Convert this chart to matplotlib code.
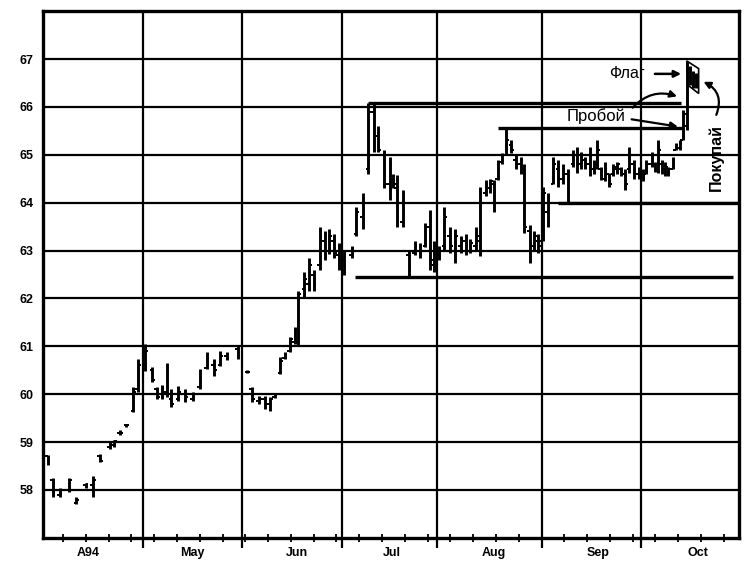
import matplotlib
matplotlib.use("Agg")
import matplotlib.pyplot as plt
from matplotlib.patches import Polygon
from matplotlib.transforms import blended_transform_factory

plt.rcParams['font.family'] = ['Liberation Sans', 'DejaVu Sans']

# trading day index, high, low, open, close
days = [1, 2, 3.5, 5.5, 7, 9, 10.5, 12, 14, 15, 16.2, 17.5, 19, 20, 21.5,
        23, 24, 25, 26, 27, 28.5, 30, 31.5, 33, 34.5, 36, 37.3, 38.7, 41,
        43, 44, 45.5, 46.7, 47.8, 48.8, 50, 50.9, 52, 53, 53.8, 55, 56, 57,
        58.3, 59.3, 60.3, 61.3, 62.3, 63.3,
        65, 66, 67.3, 68.5, 69.7, 70.6, 71.8, 73, 73.8, 74.5, 75.8, 77, 78.3,
        79.3, 80.5, 81.5, 82.3,
        83.3, 84.5, 85.7, 86.8, 88, 89, 90, 91.2, 92, 93.2, 94.2, 95, 95.8,
        96.6, 97.6, 98.6, 99.6, 100.6, 101.4, 102.5, 103.4, 104.3, 105.3,
        106.3, 107.5, 108.5, 109.5, 110.5, 111.7, 112.5, 113.3, 114.1, 115.2,
        116.0, 116.7, 117.5, 118.3, 119.2, 120.1, 121.0, 121.8, 122.6, 123.5,
        124.5, 125.5, 126.3,
        127.0, 128.2, 128.9, 129.6, 130.3, 131.0, 131.7, 132.6, 133.3, 134.1,
        134.8, 135.6, 136.3, 136.9, 137.5]
highs = [58.73, 58.25, 58.05, 58.25, 57.85, 58.15, 58.3, 58.75, 59.0, 59.05, 59.25, 59.38, 60.15, 60.73, 61.05,
         60.56, 60.15, 60.2, 60.65, 60.1, 60.17, 60.1, 60.05, 60.52, 60.88, 60.73, 60.9, 60.88, 61.0,
         60.5, 60.15, 59.96, 59.96, 59.95, 60.0, 60.77, 60.88, 61.2, 61.4, 62.15, 62.55, 62.85, 62.6,
         63.5, 63.4, 63.45, 63.35, 63.15, 63.0,
         63.1, 63.9, 64.2, 66.08, 66.08, 65.6, 65.1, 64.95, 64.6, 64.58, 64.27, 63.0, 63.2,
         63.15, 63.58, 63.85, 63.2,
         63.1, 63.9, 63.5, 63.45, 63.3, 63.35, 63.25, 63.5, 64.33, 64.48, 64.5, 64.48, 64.9,
         65.04, 65.56, 65.3, 65.0, 64.95, 64.8, 63.54, 63.4, 63.35, 64.33,
         64.2, 64.96, 64.9, 64.8, 64.7, 65.1, 65.17, 65.05, 64.96, 65.17,
         64.9, 65.3, 64.75, 64.85, 64.63, 64.8, 64.85, 64.75, 64.7, 65.17,
         64.9, 64.75, 64.7,
         64.9, 65.05, 64.85, 65.3, 64.9, 64.85, 64.75, 64.95, 65.25, 65.3,
         65.94, 66.94, 66.85, 66.75, 66.7]
lows = [58.52, 57.85, 57.85, 57.95, 57.7, 58.05, 57.85, 58.58, 58.85, 58.9, 59.15, 59.32, 59.62, 60.04, 60.48,
        60.25, 59.9, 59.9, 59.95, 59.73, 59.85, 59.83, 59.85, 60.1, 60.52, 60.38, 60.58, 60.72, 60.73,
        60.44, 59.83, 59.79, 59.7, 59.65, 59.92, 60.42, 60.73, 60.88, 61.04, 61.0, 62.0, 62.15, 62.15,
        62.6, 62.8, 62.92, 62.85, 62.6, 62.5,
        62.85, 63.3, 63.45, 64.6, 65.05, 65.05, 64.3, 64.05, 64.3, 63.5, 63.5, 62.45, 62.9,
        62.85, 63.08, 62.6, 62.55,
        62.8, 63.0, 62.95, 62.75, 62.95, 62.9, 62.95, 63.0, 62.88, 64.13, 64.2, 63.8, 64.48,
        64.8, 65.0, 65.04, 64.7, 64.6, 63.37, 62.75, 63.0, 62.95, 63.19,
        63.5, 64.38, 64.33, 64.4, 64.0, 64.75, 64.63, 64.7, 64.7, 64.55,
        64.6, 64.7, 64.48, 64.45, 64.33, 64.55, 64.6, 64.55, 64.27, 64.63,
        64.5, 64.5, 64.45,
        64.6, 64.75, 64.65, 64.63, 64.6, 64.55, 64.55, 64.7, 65.1, 65.1,
        65.3, 65.52, 66.45, 66.4, 66.4]
opens = [58.7, 58.2, 57.9, 58.0, 57.72, 58.1, 58.1, 58.7, 58.9, 58.95, 59.2, 59.35, 59.65, 60.1, 60.6,
         60.5, 60.1, 60.0, 60.05, 59.9, 59.9, 60.0, 59.9, 60.15, 60.55, 60.6, 60.6, 60.8, 60.95,
         60.47, 60.1, 59.85, 59.9, 59.8, 59.95, 60.45, 60.75, 60.9, 61.1, 61.1, 62.2, 62.3, 62.5,
         62.7, 63.2, 63.0, 63.2, 62.9, 62.8,
         62.9, 63.35, 63.7, 64.7, 65.9, 65.4, 65.0, 64.4, 64.5, 64.3, 63.6, 62.9, 62.95,
         63.0, 63.1, 63.5, 62.7,
         63.0, 63.1, 63.3, 63.0, 63.1, 63.2, 63.0, 63.1, 63.2, 64.2, 64.3, 64.4, 64.5,
         64.85, 65.0, 65.2, 64.9, 64.8, 64.7, 63.4, 63.1, 63.2, 63.2,
         63.8, 64.4, 64.7, 64.5, 64.6, 64.8, 65.0, 64.8, 64.9, 64.8,
         64.7, 64.8, 64.7, 64.5, 64.6, 64.6, 64.7, 64.7, 64.6, 64.7,
         64.8, 64.6, 64.6,
         64.6, 64.8, 64.8, 64.7, 64.8, 64.7, 64.6, 64.7, 65.1, 65.15,
         65.3, 65.6, 66.8, 66.5, 66.6]
closes = [58.6, 57.95, 58.0, 58.2, 57.8, 58.12, 58.2, 58.6, 58.95, 59.02, 59.18, 59.36, 60.05, 60.6, 60.9,
          60.3, 59.95, 60.1, 60.55, 59.8, 60.05, 59.95, 60.0, 60.45, 60.75, 60.5, 60.8, 60.85, 60.8,
          60.46, 59.9, 59.9, 59.8, 59.9, 59.98, 60.7, 60.85, 61.15, 61.35, 62.1, 62.4, 62.7, 62.3,
          63.3, 63.0, 63.3, 62.95, 62.8, 62.7,
          63.05, 63.8, 64.0, 65.9, 65.4, 65.1, 64.4, 64.8, 64.4, 63.7, 64.0, 62.6, 63.1,
          62.95, 63.5, 62.8, 63.1,
          62.9, 63.7, 63.1, 63.3, 63.2, 63.0, 63.15, 63.3, 64.2, 64.4, 64.45, 64.0, 64.8,
          65.0, 65.3, 65.1, 64.8, 64.7, 63.5, 63.1, 63.3, 63.1, 64.2,
          64.0, 64.8, 64.5, 64.7, 64.2, 65.0, 64.8, 65.0, 64.8, 64.7,
          64.8, 65.1, 64.55, 64.7, 64.4, 64.75, 64.8, 64.6, 64.4, 65.0,
          64.6, 64.7, 64.5,
          64.8, 64.95, 64.7, 65.1, 64.7, 64.75, 64.7, 64.9, 65.2, 65.25,
          65.85, 66.8, 66.5, 66.65, 66.45]

month_ends = [21, 42, 63, 83, 105, 126]
month_labels = ["A94", "May", "Jun", "Jul", "Aug", "Sep", "Oct"]
month_label_pos = [9.5, 31.5, 53.5, 73.5, 95, 117, 138]
y_ticks = [58, 59, 60, 61, 62, 63, 64, 65, 66, 67]

# horizontal levels: (value, start day, end day)
levels = [(66.08, 68.5, 134.3), (65.56, 95.8, 134.6), (64.0, 108.5, 146.5), (62.45, 65.7, 145.3)]

fig = plt.figure(figsize=(7.56, 5.71), dpi=100)
ax = fig.add_axes([0.057, 0.058, 0.9205, 0.9225])
ax.set_xlim(0, 146.6)
ax.set_ylim(57, 68)

for y in y_ticks:
    ax.axhline(y, color="black", lw=1.6, zorder=1)
for x in month_ends:
    ax.axvline(x, color="black", lw=1.6, zorder=1)

tick = 0.55
ax.vlines(days, lows, highs, color="black", lw=2.1, zorder=3)
ax.hlines(opens, [d - tick for d in days], days, color="black", lw=1.4, zorder=3)
ax.hlines(closes, days, [d + tick for d in days], color="black", lw=1.4, zorder=3)

for val, x0, x1 in levels:
    ax.hlines(val, x0, x1, color="black", lw=2.4, zorder=2)

# flag outline
flag = Polygon([(135.6, 66.96), (138.1, 66.8), (138.1, 66.28), (135.9, 66.45)],
               closed=True, fill=False, edgecolor="black", lw=1.2, zorder=4)
ax.add_patch(flag)

ax.text(123, 66.69, "Флаг", fontsize=11.5, ha="center", va="center")
ax.annotate("", xy=(135.0, 66.69), xytext=(128.3, 66.69),
            arrowprops=dict(arrowstyle="-|>", color="black", lw=1.8, mutation_scale=10))
ax.text(116.4, 65.81, "Пробой", fontsize=12, ha="center", va="center")
ax.annotate("", xy=(134.1, 66.2), xytext=(123.8, 65.94),
            arrowprops=dict(arrowstyle="-|>", color="black", lw=1.6, mutation_scale=10,
                            connectionstyle="arc3,rad=-0.35"))
ax.annotate("", xy=(134.3, 65.58), xytext=(123.4, 65.75),
            arrowprops=dict(arrowstyle="-|>", color="black", lw=1.6, mutation_scale=10))
ax.text(141.7, 64.94, "Покупай", fontsize=11.5, fontweight="bold", rotation=90,
        ha="center", va="center")
ax.annotate("", xy=(138.6, 66.55), xytext=(141.6, 65.78),
            arrowprops=dict(arrowstyle="-|>", color="black", lw=1.6, mutation_scale=10,
                            connectionstyle="arc3,rad=0.5"))

for s in ax.spines.values():
    s.set_linewidth(2.4)

ax.set_yticks(y_ticks)
ax.set_yticklabels([str(v) for v in y_ticks], fontsize=9, fontweight="bold")
ax.tick_params(axis="y", length=0, pad=7)

ax.set_xticks(month_ends)
ax.set_xticklabels([])
ax.tick_params(axis="x", which="major", direction="out", length=7, width=1.6)
week_ticks = [4.2 + 4.8 * i for i in range(31) if 4.2 + 4.8 * i < 146]
ax.set_xticks(week_ticks, minor=True)
ax.tick_params(axis="x", which="minor", direction="inout", length=6, width=1.3)

trans = blended_transform_factory(ax.transData, ax.transAxes)
for pos, lab in zip(month_label_pos, month_labels):
    ax.text(pos, -0.028, lab, transform=trans, fontsize=9, fontweight="bold",
            ha="center", va="center")

fig.savefig("out.png", dpi=100)
